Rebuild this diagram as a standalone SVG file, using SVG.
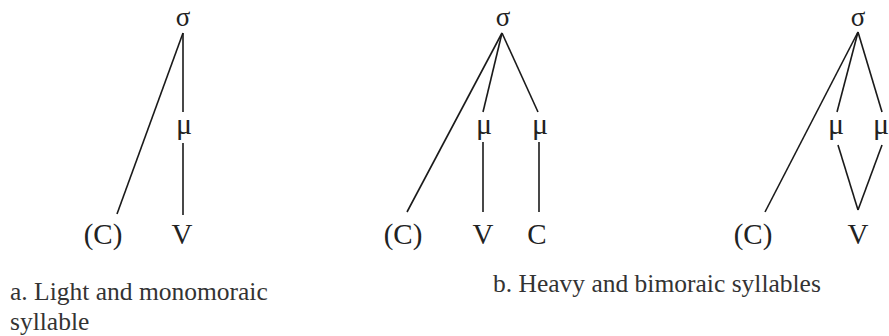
<svg xmlns="http://www.w3.org/2000/svg" width="889" height="336" viewBox="0 0 889 336">
<style>
.n{font-family:"Liberation Serif","Times New Roman",serif;font-size:29px;fill:#222;text-anchor:middle}
.g{font-family:"Liberation Serif","Times New Roman",serif;font-size:27px;fill:#222;text-anchor:middle}
.m{font-family:"Liberation Serif","Times New Roman",serif;font-size:30px;fill:#222;text-anchor:middle}
.cap{font-family:"Liberation Serif","Times New Roman",serif;font-size:25.5px;fill:#333}
.e line{stroke:#1a1a1a;stroke-width:1.6;fill:none}
</style>
<rect width="889" height="336" fill="#fff"/>
<g class="e" id="connectors">
<line x1="183" y1="33" x2="117" y2="214"/>
<line x1="183" y1="33" x2="183" y2="112"/>
<line x1="183" y1="143" x2="183" y2="215"/>
<line x1="502" y1="33" x2="407" y2="212"/>
<line x1="502" y1="33" x2="483" y2="112"/>
<line x1="502" y1="33" x2="538" y2="112"/>
<line x1="483" y1="142" x2="483" y2="212"/>
<line x1="539" y1="142" x2="539" y2="212"/>
<line x1="858" y1="32" x2="765" y2="212"/>
<line x1="858" y1="32" x2="837" y2="112"/>
<line x1="858" y1="32" x2="882" y2="112"/>
<line x1="838" y1="145" x2="858" y2="210"/>
<line x1="882" y1="145" x2="858" y2="210"/>
</g>
<g id="a-sigma"><text class="g" x="183" y="26">σ</text></g>
<g id="a-mu"><text class="m" x="184" y="134">μ</text></g>
<g id="a-C"><text class="n" x="103" y="244">(C)</text></g>
<g id="a-V"><text class="n" x="182" y="244">V</text></g>
<g id="b-sigma"><text class="g" x="503" y="26">σ</text></g>
<g id="b-mu1"><text class="m" x="484" y="134">μ</text></g>
<g id="b-mu2"><text class="m" x="540" y="134">μ</text></g>
<g id="b-C"><text class="n" x="403" y="244">(C)</text></g>
<g id="b-V"><text class="n" x="483" y="244">V</text></g>
<g id="b-C2"><text class="n" x="537" y="244">C</text></g>
<g id="c-sigma"><text class="g" x="858" y="26">σ</text></g>
<g id="c-mu1"><text class="m" x="836" y="134">μ</text></g>
<g id="c-mu2"><text class="m" x="881" y="134">μ</text></g>
<g id="c-C"><text class="n" x="753" y="244">(C)</text></g>
<g id="c-V"><text class="n" x="858" y="244">V</text></g>
<g id="caption-a"><text class="cap" x="10" y="300">a. Light and monomoraic</text><text class="cap" x="10" y="330">syllable</text></g>
<g id="caption-b"><text class="cap" x="493" y="292">b. Heavy and bimoraic syllables</text></g>
</svg>
